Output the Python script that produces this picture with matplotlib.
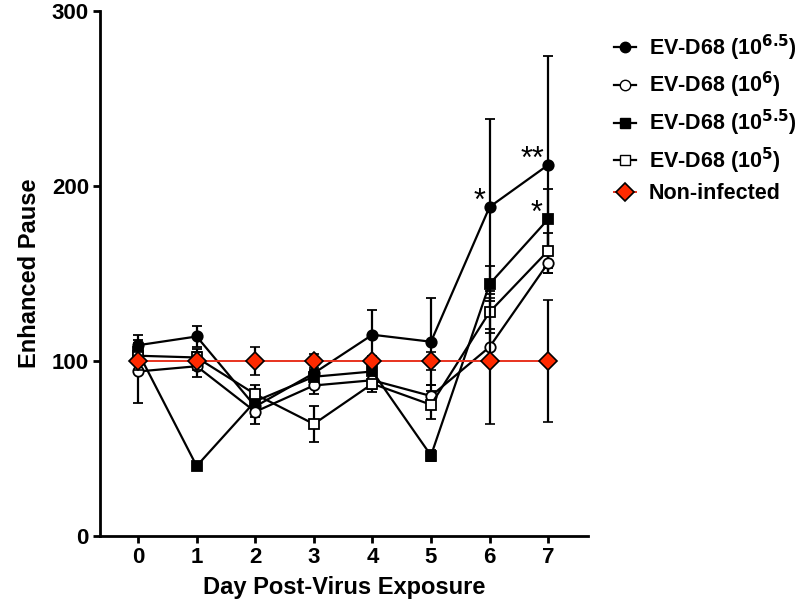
import matplotlib
matplotlib.use("Agg")
from matplotlib import pyplot as plt
from matplotlib.lines import Line2D

plt.rcParams['font.family'] = ['Liberation Sans', 'DejaVu Sans']
plt.rcParams['font.weight'] = 'bold'

days = [0, 1, 2, 3, 4, 5, 6, 7]

# mean enhanced pause per group, with SEM
ev65 = [109, 114, 74, 93, 115, 111, 188, 212]
ev65_err = [6, 6, 6, 5, 14, 25, 50, 62]
ev6 = [94, 97, 71, 86, 89, 80, 108, 156]
ev6_err = [18, 6, 7, 5, 5, 6, 10, 6]
ev55 = [105, 40, 77, 91, 94, 46, 144, 181]
ev55_err = [5, 2, 5, 4, 5, 3, 10, 17]
ev5 = [103, 102, 81, 64, 87, 75, 128, 163]
ev5_err = [5, 5, 5, 10, 5, 8, 12, 10]
ctrl = [100, 100, 100, 100, 100, 100, 100, 100]
ctrl_err = [5, 5, 8, 4, 3, 5, 36, 35]

labels = ['EV-D68 (10$^{6.5}$)', 'EV-D68 (10$^{6}$)', 'EV-D68 (10$^{5.5}$)',
          'EV-D68 (10$^{5}$)', 'Non-infected']

fig = plt.figure(figsize=(8, 6.05), dpi=100)
ax = fig.add_axes([0.125, 0.114, 0.61, 0.868])

kw = dict(color='black', lw=1.6, capsize=3.5, elinewidth=1.6, capthick=1.6, ms=7.5, mew=1.3)
ax.errorbar(days, ev65, yerr=ev65_err, marker='o', mfc='black', mec='black', zorder=3, **kw)
ax.errorbar(days, ev6, yerr=ev6_err, marker='o', mfc='white', mec='black', zorder=3, **kw)
ax.errorbar(days, ev55, yerr=ev55_err, marker='s', mfc='black', mec='black', zorder=3, **kw)
ax.errorbar(days, ev5, yerr=ev5_err, marker='s', mfc='white', mec='black', zorder=3, **kw)
ax.errorbar(days, ctrl, yerr=ctrl_err, color='#e8321e', ecolor='black', lw=1.4,
            capsize=3.5, elinewidth=1.6, capthick=1.6, marker='D', ms=9,
            mfc='#ff2a00', mec='black', mew=1.2, zorder=4)

ax.text(5.83, 191, '*', fontsize=22, fontweight='normal', ha='center', va='center')
ax.text(6.74, 215, '**', fontsize=22, fontweight='normal', ha='center', va='center')
ax.text(6.8, 184, '*', fontsize=22, fontweight='normal', ha='center', va='center')

ax.set_xlim(-0.65, 7.68)
ax.set_ylim(0, 300)
ax.set_xticks(days)
ax.set_yticks([0, 100, 200, 300])
ax.spines['top'].set_visible(False)
ax.spines['right'].set_visible(False)
for s in ['left', 'bottom']:
    ax.spines[s].set_linewidth(2)
ax.tick_params(width=2, length=5, labelsize=16, pad=3)
for t in ax.get_xticklabels() + ax.get_yticklabels():
    t.set_fontweight('bold')

ax.set_xlabel('Day Post-Virus Exposure', fontsize=17, fontweight='bold', labelpad=6)
ax.set_ylabel('Enhanced Pause', fontsize=17, fontweight='bold', labelpad=8)

handles = [
    Line2D([], [], color='black', lw=1.6, marker='o', ms=7.5, mfc='black', mec='black'),
    Line2D([], [], color='black', lw=1.6, marker='o', ms=7.5, mfc='white', mec='black'),
    Line2D([], [], color='black', lw=1.6, marker='s', ms=7.5, mfc='black', mec='black'),
    Line2D([], [], color='black', lw=1.6, marker='s', ms=7.5, mfc='white', mec='black'),
    Line2D([], [], color='#e8321e', lw=1.4, marker='D', ms=9, mfc='#ff2a00', mec='black', mew=1.2),
]
ax.legend(handles, labels, loc='upper left', bbox_to_anchor=(1.01, 1.0), frameon=False,
          handlelength=1.0, handletextpad=0.6, labelspacing=0.35, borderaxespad=0.6,
          prop={'weight': 'bold', 'size': 15.5})

fig.savefig('out.png', dpi=100)
